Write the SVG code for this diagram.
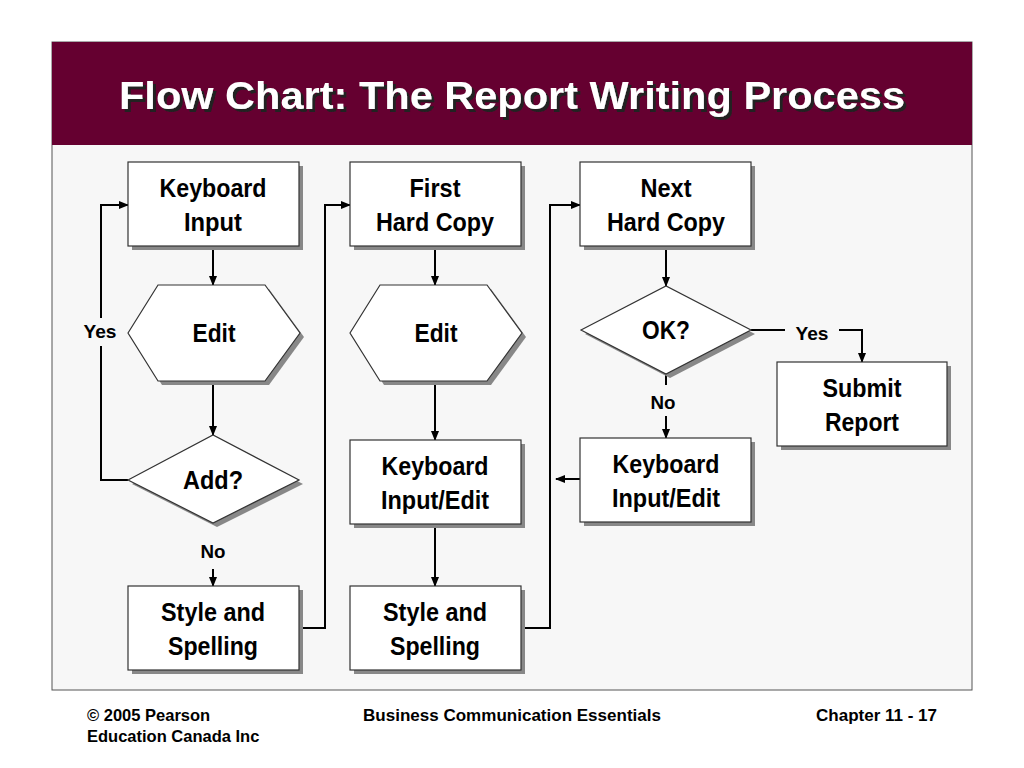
<svg xmlns="http://www.w3.org/2000/svg" width="1024" height="768" viewBox="0 0 1024 768">
<defs>
<marker id="ah" markerWidth="10" markerHeight="10" refX="9" refY="5" orient="auto" markerUnits="userSpaceOnUse"><path d="M0,1 L10,5 L0,9 Z" fill="#000"/></marker>
<filter id="ds" x="-5%" y="-20%" width="110%" height="140%"><feDropShadow dx="3" dy="3" stdDeviation="0" flood-color="#222" flood-opacity="1"/></filter>
</defs>
<style>
.n{fill:#fff;stroke:#333;stroke-width:1.2}
.s{fill:#888}
.t{font-family:"Liberation Sans",Arial,sans-serif;font-weight:bold;font-size:25px;text-anchor:middle;fill:#000}
.l{font-family:"Liberation Sans",Arial,sans-serif;font-weight:bold;font-size:19px;text-anchor:middle;fill:#000}
.c{fill:none;stroke:#000;stroke-width:2}
.f{font-family:"Liberation Sans",Arial,sans-serif;font-weight:bold;font-size:16.5px;fill:#000}
</style>
<rect width="1024" height="768" fill="#fff"/>
<rect x="52" y="42" width="920" height="648" fill="#f7f7f7" stroke="#555" stroke-width="1"/>
<rect x="52" y="42" width="920" height="103" fill="#650030"/>
<text x="512" y="109" text-anchor="middle" font-family="Liberation Sans,Arial,sans-serif" font-weight="bold" font-size="38" fill="#fff" filter="url(#ds)" textLength="786" lengthAdjust="spacingAndGlyphs">Flow Chart: The Report Writing Process</text>

<g id="connectors">
<line class="c" x1="213" y1="246" x2="213" y2="285" marker-end="url(#ah)"/>
<line class="c" x1="213" y1="381" x2="213" y2="435" marker-end="url(#ah)"/>
<polyline class="c" points="128,480 101,480 101,346"/>
<polyline class="c" points="101,318 101,205 128,205" marker-end="url(#ah)"/>
<text class="l" x="100" y="338" textLength="33" lengthAdjust="spacingAndGlyphs">Yes</text>
<text class="l" x="213" y="558" textLength="25" lengthAdjust="spacingAndGlyphs">No</text>
<line class="c" x1="213" y1="569" x2="213" y2="586" marker-end="url(#ah)"/>
<polyline class="c" points="299,628 325,628 325,205 350,205" marker-end="url(#ah)"/>
<line class="c" x1="435" y1="246" x2="435" y2="285" marker-end="url(#ah)"/>
<line class="c" x1="435" y1="381" x2="435" y2="440" marker-end="url(#ah)"/>
<line class="c" x1="435" y1="524" x2="435" y2="586" marker-end="url(#ah)"/>
<polyline class="c" points="521,628 550,628 550,205 580,205" marker-end="url(#ah)"/>
<line class="c" x1="666" y1="246" x2="666" y2="286" marker-end="url(#ah)"/>
<line class="c" x1="666" y1="374" x2="666" y2="385"/>
<text class="l" x="663" y="409" textLength="25" lengthAdjust="spacingAndGlyphs">No</text>
<line class="c" x1="666" y1="416" x2="666" y2="438" marker-end="url(#ah)"/>
<line class="c" x1="751" y1="330" x2="785" y2="330"/>
<text class="l" x="812" y="340" textLength="33" lengthAdjust="spacingAndGlyphs">Yes</text>
<polyline class="c" points="839,330 862,330 862,362" marker-end="url(#ah)"/>
<line class="c" x1="580" y1="479" x2="556" y2="479" marker-end="url(#ah)"/>
</g>

<g id="n1"><rect class="s" x="132" y="166" width="171" height="84"/><rect class="n" x="128" y="162" width="171" height="84"/><text class="t" x="213" y="197" textLength="107" lengthAdjust="spacingAndGlyphs">Keyboard</text><text class="t" x="213" y="231" textLength="58" lengthAdjust="spacingAndGlyphs">Input</text></g>
<g id="n2"><polygon class="s" points="132,337 162,289 269,289 304,337 269,385 162,385"/><polygon class="n" points="128,333 158,285 265,285 300,333 265,381 158,381"/><text class="t" x="214" y="342" textLength="43" lengthAdjust="spacingAndGlyphs">Edit</text></g>
<g id="n3"><polygon class="s" points="132,484 217,439 303,484 217,527"/><polygon class="n" points="128,480 213,435 299,480 213,523"/><text class="t" x="213" y="489" textLength="60" lengthAdjust="spacingAndGlyphs">Add?</text></g>
<g id="n4"><rect class="s" x="132" y="590" width="171" height="84"/><rect class="n" x="128" y="586" width="171" height="84"/><text class="t" x="213" y="621" textLength="104" lengthAdjust="spacingAndGlyphs">Style and</text><text class="t" x="213" y="655" textLength="90" lengthAdjust="spacingAndGlyphs">Spelling</text></g>

<g id="n5"><rect class="s" x="354" y="166" width="171" height="84"/><rect class="n" x="350" y="162" width="171" height="84"/><text class="t" x="435" y="197" textLength="51" lengthAdjust="spacingAndGlyphs">First</text><text class="t" x="435" y="231" textLength="118" lengthAdjust="spacingAndGlyphs">Hard Copy</text></g>
<g id="n6"><polygon class="s" points="354,337 384,289 491,289 526,337 491,385 384,385"/><polygon class="n" points="350,333 380,285 487,285 522,333 487,381 380,381"/><text class="t" x="436" y="342" textLength="43" lengthAdjust="spacingAndGlyphs">Edit</text></g>
<g id="n7"><rect class="s" x="354" y="444" width="171" height="84"/><rect class="n" x="350" y="440" width="171" height="84"/><text class="t" x="435" y="475" textLength="107" lengthAdjust="spacingAndGlyphs">Keyboard</text><text class="t" x="435" y="509" textLength="108" lengthAdjust="spacingAndGlyphs">Input/Edit</text></g>
<g id="n8"><rect class="s" x="354" y="590" width="171" height="84"/><rect class="n" x="350" y="586" width="171" height="84"/><text class="t" x="435" y="621" textLength="104" lengthAdjust="spacingAndGlyphs">Style and</text><text class="t" x="435" y="655" textLength="90" lengthAdjust="spacingAndGlyphs">Spelling</text></g>

<g id="n9"><rect class="s" x="584" y="166" width="171" height="84"/><rect class="n" x="580" y="162" width="171" height="84"/><text class="t" x="666" y="197" textLength="51" lengthAdjust="spacingAndGlyphs">Next</text><text class="t" x="666" y="231" textLength="118" lengthAdjust="spacingAndGlyphs">Hard Copy</text></g>
<g id="n10"><polygon class="s" points="585,334 670,290 755,334 670,378"/><polygon class="n" points="581,330 666,286 751,330 666,374"/><text class="t" x="666" y="339" textLength="48" lengthAdjust="spacingAndGlyphs">OK?</text></g>
<g id="n11"><rect class="s" x="584" y="442" width="171" height="84"/><rect class="n" x="580" y="438" width="171" height="84"/><text class="t" x="666" y="473" textLength="107" lengthAdjust="spacingAndGlyphs">Keyboard</text><text class="t" x="666" y="507" textLength="108" lengthAdjust="spacingAndGlyphs">Input/Edit</text></g>
<g id="n12"><rect class="s" x="781" y="366" width="170" height="84"/><rect class="n" x="777" y="362" width="170" height="84"/><text class="t" x="862" y="397" textLength="79" lengthAdjust="spacingAndGlyphs">Submit</text><text class="t" x="862" y="431" textLength="74" lengthAdjust="spacingAndGlyphs">Report</text></g>

<text class="f" x="87" y="721">© 2005 Pearson</text>
<text class="f" x="87" y="742">Education Canada Inc</text>
<text class="f" x="363" y="721" textLength="298" lengthAdjust="spacingAndGlyphs">Business Communication Essentials</text>
<text class="f" x="816" y="721" textLength="121" lengthAdjust="spacingAndGlyphs">Chapter 11 - 17</text>
</svg>
